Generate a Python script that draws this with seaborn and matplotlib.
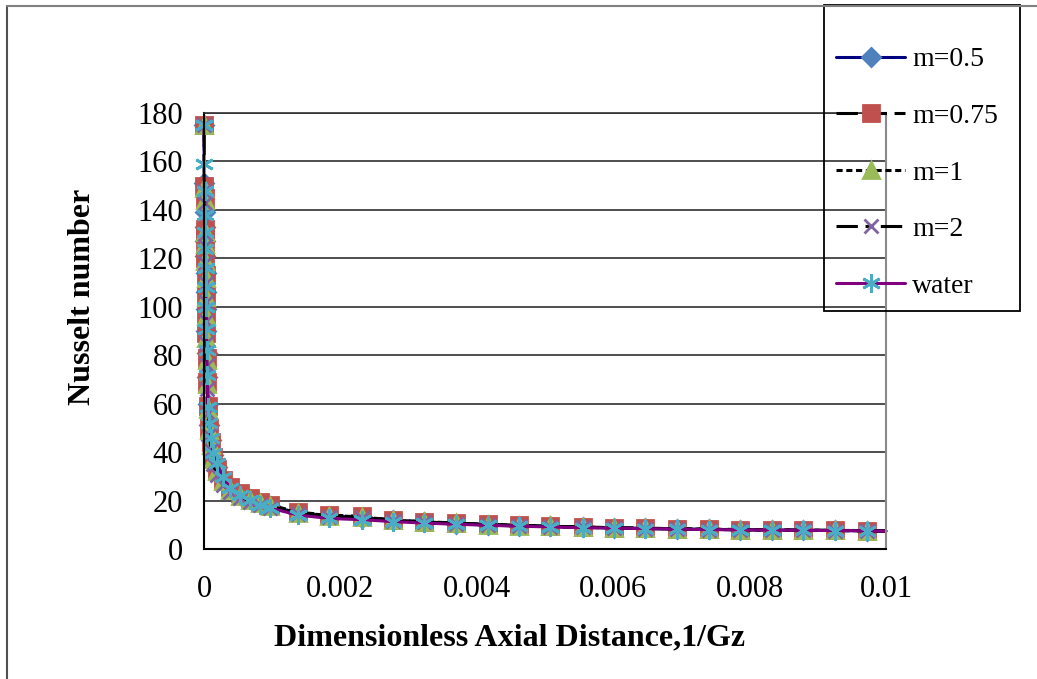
import matplotlib
matplotlib.use("Agg")
import matplotlib.pyplot as plt
import seaborn as sns
from matplotlib.lines import Line2D
from matplotlib.patches import Rectangle
from matplotlib.font_manager import FontProperties

# Dimensionless axial distance (1/Gz), shared by every series
axial = [0.000003, 0.000006, 0.000009, 0.000012, 0.000015, 0.000018, 0.000022,
         0.000026, 0.00003, 0.000035, 0.00004, 0.000046,
         0.000059, 0.00008, 0.0001, 0.000132, 0.000186, 0.000279, 0.000381,
         0.000528, 0.000674, 0.000821, 0.000968,
         0.00138, 0.00184, 0.00231, 0.00277, 0.00323, 0.0037, 0.00416, 0.00462,
         0.00508, 0.00555, 0.00601, 0.00647, 0.00694, 0.0074, 0.00786, 0.00833,
         0.00879, 0.00925, 0.00972, 0.01]

# Local Nusselt number for each power-law index and for water
nu_m05 = [175, 151, 139, 133, 127, 121, 114, 106, 99, 90, 81, 71,
          60, 51, 45, 39, 34, 29, 25, 22.5, 20.5, 19.0, 17.8,
          14.8, 13.6, 13.0, 11.8, 11.1, 10.5, 10.0, 9.6, 9.3, 9.0, 8.7, 8.5,
          8.3, 8.1, 8.0, 7.85, 7.75, 7.65, 7.55, 7.4]
nu_m075 = [175, 150, 145, 132, 128, 120, 113, 105, 97, 89, 79, 69,
           59, 50, 44, 38, 33, 28.5, 25.5, 23, 21, 19.5, 18.2,
           15.2, 14.0, 13.5, 12.0, 11.3, 10.7, 10.2, 9.8, 9.4, 9.1, 8.8, 8.6,
           8.4, 8.2, 8.05, 7.9, 7.8, 7.7, 7.6, 7.45]
nu_m1 = [175, 149, 144, 131, 126, 119, 112, 104, 96, 87, 78, 68,
         58, 49, 43, 37, 32, 28, 24.5, 22, 20.3, 18.8, 17.6,
         15.0, 13.8, 13.3, 11.9, 11.2, 10.6, 10.1, 9.7, 9.35, 9.05, 8.75, 8.55,
         8.35, 8.15, 8.0, 7.85, 7.75, 7.65, 7.55, 7.4]
nu_m2 = [175, 148, 143, 130, 125, 118, 110, 102, 94, 85, 76, 66,
         56, 47, 41, 35, 30.5, 26.5, 23.5, 21.2, 19.6, 18.2, 17.0,
         14.5, 13.3, 12.8, 11.6, 11.0, 10.4, 9.9, 9.5, 9.2, 8.9, 8.7, 8.45,
         8.25, 8.05, 7.95, 7.8, 7.7, 7.6, 7.5, 7.35]
nu_water = [175, 159, 148, 138, 131, 124, 116, 108, 100, 91, 82, 72,
            58.6, 52, 45.8, 39.6, 35.5, 29.7, 25.2, 22.3, 20.2, 18.2, 16.9,
            14.0, 12.6, 12.1, 11.3, 10.7, 10.2, 9.8, 9.4, 9.1, 8.8, 8.6, 8.4,
            8.2, 8.0, 7.9, 7.8, 7.7, 7.6, 7.5, 7.35]

series_labels = ["m=0.5", "m=0.75", "m=1", "m=2", "water"]
x_ticks = [0, 0.002, 0.004, 0.006, 0.008, 0.01]
x_tick_labels = ["0", "0.002", "0.004", "0.006", "0.008", "0.01"]
y_ticks = [0, 20, 40, 60, 80, 100, 120, 140, 160, 180]

sns.set_style("white")
plt.rcParams["font.family"] = ["Liberation Serif", "DejaVu Serif"]
plt.rcParams["text.color"] = "black"
plt.rcParams["xtick.color"] = "black"
plt.rcParams["ytick.color"] = "black"
plt.rcParams["xtick.labelcolor"] = "black"
plt.rcParams["ytick.labelcolor"] = "black"

W, H = 1037, 679
fig = plt.figure(figsize=(W / 100, H / 100), dpi=100)
ax = fig.add_axes([204 / W, 1 - 549 / H, 682 / W, 436 / H])

styles = [
    dict(color="#000080", linestyle="-", marker="D", markersize=9.5,
         markerfacecolor="#4F81BD", markeredgecolor="#4F81BD"),
    dict(color="black", linestyle=(0, (7, 2.5)), marker="s", markersize=11,
         markerfacecolor="#C0504D", markeredgecolor="#C0504D"),
    dict(color="black", linestyle=(0, (2, 1.2)), marker="^", markersize=11.5,
         markerfacecolor="#9BBB59", markeredgecolor="#9BBB59"),
    dict(color="black", linestyle=(0, (7, 2.5, 2.5, 2.5)), marker="x",
         markersize=10.5, markerfacecolor="#8064A2", markeredgecolor="#8064A2"),
    dict(color="#800080", linestyle="-", marker=(6, 2, 0), markersize=13.5,
         markerfacecolor="#4BACC6", markeredgecolor="#4BACC6"),
]
series = [nu_m05, nu_m075, nu_m1, nu_m2, nu_water]
marked = list(range(len(axial) - 1))

for nu, label, st in zip(series, series_labels, styles):
    sns.lineplot(x=axial, y=nu, ax=ax, label=label, sort=False,
                 estimator=None, linewidth=2.2, markeredgewidth=2.0,
                 markevery=marked, clip_on=False, **st)

ax.set_xlim(0, 0.01)
ax.set_ylim(0, 180)
ax.set_xticks(x_ticks)
ax.set_xticklabels(x_tick_labels)
ax.set_yticks(y_ticks)
ax.tick_params(axis="x", direction="in", length=7, width=1.2, color="black",
               pad=19, labelsize=22)
ax.tick_params(axis="y", length=0, pad=15, labelsize=22)
ax.yaxis.grid(True, color="#303030", linewidth=1.2)
ax.xaxis.grid(False)
ax.set_axisbelow(True)
for side in ["left", "bottom"]:
    ax.spines[side].set_color("black")
    ax.spines[side].set_linewidth(1.5)
ax.spines["top"].set_color("#303030")
ax.spines["top"].set_linewidth(1.2)
ax.spines["right"].set_color("#8a8a8a")
ax.spines["right"].set_linewidth(1.5)
ax.set_xlabel("")
ax.set_ylabel("")

fig.text(510 / W, 1 - 638 / H, "Dimensionless Axial Distance,1/Gz",
         ha="center", va="center", fontsize=23, fontweight="bold")
fig.text(83 / W, 1 - 297 / H, "Nusselt number", rotation=90,
         ha="center", va="center", fontsize=23, fontweight="bold")

handles, labels = ax.get_legend_handles_labels()
leg = ax.legend(handles, labels, loc="upper left",
                bbox_to_anchor=(836 / W, 1 - 47 / H),
                bbox_transform=fig.transFigure, frameon=False,
                prop=FontProperties(family="Liberation Serif", size=20),
                handlelength=2.5, handletextpad=0.25, labelspacing=1.12,
                borderpad=0, borderaxespad=0, numpoints=1)

# Legend box and the outer chart frame
fig.add_artist(Rectangle((824 / W, 1 - 311 / H), 196 / W, 306 / H,
                         transform=fig.transFigure, fill=False,
                         edgecolor="black", linewidth=1.3))
fig.add_artist(Line2D([7 / W, 7 / W], [0, 1 - 6 / H], transform=fig.transFigure,
                      color="#505050", linewidth=1.5))
fig.add_artist(Line2D([7 / W, 1], [1 - 6 / H, 1 - 6 / H],
                      transform=fig.transFigure, color="#808080", linewidth=1.5))

fig.savefig("out.png", dpi=100, facecolor="white")
